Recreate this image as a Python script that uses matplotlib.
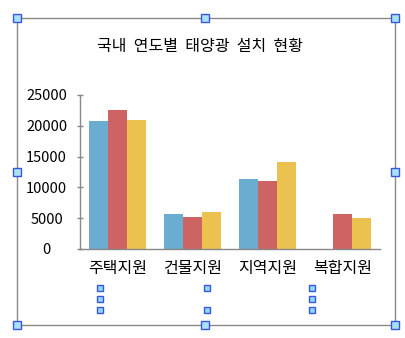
import numpy as np
import matplotlib
matplotlib.use("Agg")
import matplotlib.pyplot as plt
from matplotlib.patches import Rectangle

plt.rcParams['font.family'] = ['Noto Sans CJK KR', 'DejaVu Sans']

# 지원 유형별 설치 실적
categories = ['주택지원', '건물지원', '지역지원', '복합지원']
series_a = [20700, 5700, 11300, 0]
series_b = [22500, 5200, 11000, 5700]
series_c = [21000, 6000, 14100, 5000]
yticks = [0, 5000, 10000, 15000, 20000, 25000]
title = '국내  연도별  태양광  설치  현황'

colors = ['#6badd0', '#cd6363', '#ebc150']

W, H = 405, 338
fig = plt.figure(figsize=(W / 100, H / 100), dpi=100)
fig.patch.set_facecolor('white')


def px(x, y):
    # 왼쪽 위 기준 픽셀 -> figure 좌표
    return x / W, 1 - y / H


ax = fig.add_axes([80 / W, 89 / H, 300 / W, 154 / H])
x = np.arange(len(categories))
w = 0.253
for i, vals in enumerate([series_a, series_b, series_c]):
    ax.bar(x + (i - 1) * w, vals, width=w, color=colors[i], linewidth=0)

ax.set_xlim(-0.5, len(categories) - 0.5)
ax.set_ylim(0, 25000)
ax.set_yticks(yticks)
ax.set_yticklabels([str(v) for v in yticks], fontsize=10.5, ha='center')
ax.set_xticks(x)
ax.set_xticklabels(categories, fontsize=11.5)
ax.tick_params(axis='y', direction='inout', length=4, width=1, color='#888888', pad=22)
ax.tick_params(axis='x', length=0, pad=8)
for s in ['top', 'right']:
    ax.spines[s].set_visible(False)
for s in ['left', 'bottom']:
    ax.spines[s].set_color('#888888')
    ax.spines[s].set_linewidth(1)

fig.text(*px(200, 47), title, fontsize=11.5, ha='center', va='center')

# 개체 테두리와 선택 핸들
x0, y0 = px(17, 325)
fig.add_artist(Rectangle((x0, y0), 378 / W, 307 / H, transform=fig.transFigure,
                         fill=False, edgecolor='#8a8a8a', linewidth=1))
for hx, hy in [(17, 18), (205, 18), (395, 18), (17, 172), (395, 172),
               (17, 325), (205, 325), (395, 325)]:
    bx, by = px(hx - 4, hy + 4)
    fig.add_artist(Rectangle((bx, by), 8 / W, 8 / H, transform=fig.transFigure,
                             facecolor='#a8e2f8', edgecolor='#3a56e0', linewidth=1))
for hx, hy in [(100, 288), (100, 299), (100, 310), (207, 288), (207, 310),
               (312, 288), (312, 299), (312, 310)]:
    bx, by = px(hx - 3, hy + 3)
    fig.add_artist(Rectangle((bx, by), 6 / W, 6 / H, transform=fig.transFigure,
                             facecolor='#90d8f8', edgecolor='#3a56e0', linewidth=1))

fig.savefig('out.png', dpi=100)
